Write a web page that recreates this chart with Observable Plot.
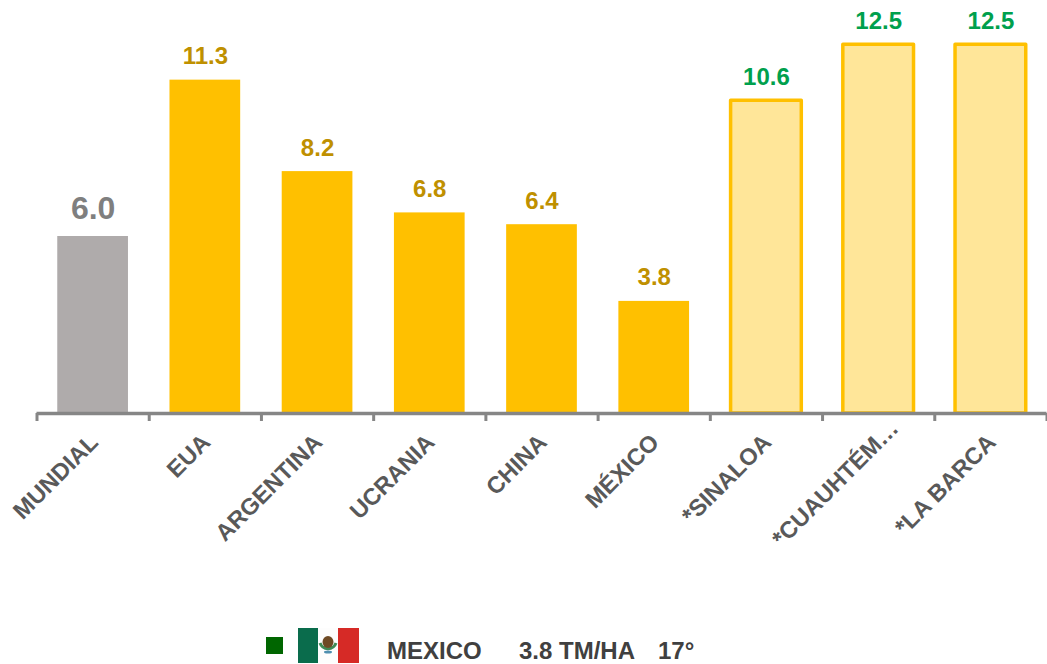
<!DOCTYPE html>
<html>
<head>
<meta charset="utf-8">
<script src="https://cdn.jsdelivr.net/npm/d3@7"></script>
<script src="https://cdn.jsdelivr.net/npm/@observablehq/plot@0.6"></script>
<style>
html,body{margin:0;padding:0;background:#fff;font-family:"Liberation Sans",Arial,sans-serif;overflow:hidden}
#chart svg{display:block}
#legend{position:relative;width:1047px;height:54px;font-weight:bold;font-size:24px;color:#404040}
#legend>*{position:absolute}
.sq{left:266px;top:27px;width:17px;height:17px;background:#006600}
.flag{left:298px;top:18px;width:61px;height:35px;display:flex}
.flag i{display:block;height:100%}
.lab{top:27px;line-height:28px;white-space:pre}
</style>
</head>
<body>
<div id="chart"></div>
<div id="legend">
  <div class="sq"></div>
  <div class="flag">
    <i style="width:20px;background:#0a6c4c"></i>
    <i style="width:20px;background:#fdfdfd"></i>
    <i style="width:21px;background:#d62a26"></i>
    <svg width="61" height="35" style="position:absolute;left:0;top:0">
      <path d="M22 15a8.5 8.5 0 0 0 16 0" fill="none" stroke="#3f8a55" stroke-width="3"/>
      <ellipse cx="30" cy="14" rx="5.5" ry="6" fill="#6e4a24"/>
      <ellipse cx="30" cy="24" rx="4" ry="1.5" fill="#4f8fb0"/>
    </svg>
  </div>
  <div class="lab" style="left:387px">MEXICO</div>
  <div class="lab" style="left:519px">3.8 TM/HA</div>
  <div class="lab" style="left:658px">17°</div>
</div>
<script>
const categories = ["MUNDIAL","EUA","ARGENTINA","UCRANIA","CHINA","MÉXICO","*SINALOA","*CUAUHTÉM…","*LA BARCA"];
const values = [6.0,11.3,8.2,6.8,6.4,3.8,10.6,12.5,12.5];
const fills = ["#AFABAB","#FFC000","#FFC000","#FFC000","#FFC000","#FFC000","#FFE699","#FFE699","#FFE699"];
const strokes = ["none","none","none","none","none","none","#FFC000","#FFC000","#FFC000"];
const labelColors = ["#7F7F7F","#BF9000","#BF9000","#BF9000","#BF9000","#BF9000","#00A04D","#00A04D","#00A04D"];
const labelSizes = [32,24,24,24,24,24,24,24,24];
const rows = categories.map((c,i)=>({c,v:values[i],fill:fills[i],stroke:strokes[i],color:labelColors[i],size:labelSizes[i]}));
const step = 1010/categories.length;
const longLabel = "*CUAUHTÉM…";
const axisText = {anchor:"bottom",tickSize:0,tickRotate:-45,fontSize:23.5,fontWeight:"bold",fill:"#595959",textOverflow:null,lineWidth:Infinity,label:null};

const plot = Plot.plot({
  width:1047, height:610,
  marginLeft:36.5, marginRight:0.5, marginTop:0, marginBottom:197,
  x:{domain:categories, paddingInner:0.37, paddingOuter:0.185, round:false, axis:null, label:null},
  y:{domain:[0,14], range:[413,0], axis:null, label:null},
  style:{fontFamily:'"Liberation Sans",Arial,sans-serif',background:"#fff"},
  marks:[
    Plot.barY(rows,{x:"c",y:"v",fill:"fill",stroke:"stroke",strokeWidth:3.5,strokeLinejoin:"round"}),
    ...rows.map(r=>Plot.text([r],{x:"c",y:"v",text:d=>d.v.toFixed(1),fill:"color",fontSize:r.size,fontWeight:"bold",
      lineAnchor:"bottom",dy:r.size>24?-18:-16})),
    Plot.ruleY([0],{stroke:"#868686",strokeWidth:3.5}),
    Plot.axisX(categories,{x:d=>d,anchor:"bottom",tickSize:8,text:null,stroke:"#868686",strokeWidth:3,dx:-step/2,label:null}),
    Plot.axisX(categories.slice(-1),{x:d=>d,anchor:"bottom",tickSize:8,text:null,stroke:"#868686",strokeWidth:3,dx:step/2,label:null}),
    Plot.axisX(categories.filter(c=>c!==longLabel),{x:d=>d,...axisText,tickPadding:25,dx:1}),
    Plot.axisX([longLabel],{x:d=>d,...axisText,tickPadding:11,dx:16})
  ]
});
document.getElementById("chart").append(plot);
</script>
</body>
</html>
